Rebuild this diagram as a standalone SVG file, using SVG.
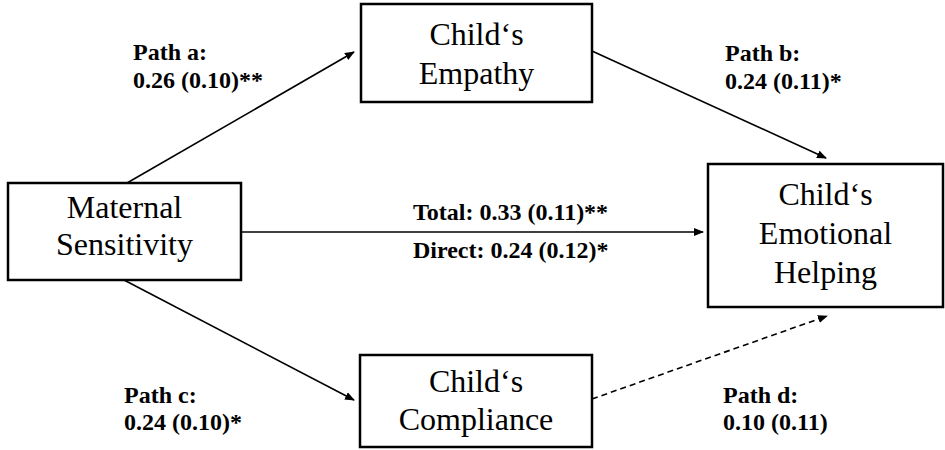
<svg xmlns="http://www.w3.org/2000/svg" width="945" height="450" viewBox="0 0 945 450">
<defs>
<marker id="ah" markerWidth="10" markerHeight="8" refX="9" refY="4" orient="auto" markerUnits="userSpaceOnUse">
<path d="M0,0 L10,4 L0,8 z" fill="#000"/>
</marker>
<style>
.box{fill:#fff;stroke:#000;stroke-width:2.5}
.nt{font-family:"Liberation Serif","Times New Roman",serif;font-size:32px;fill:#000;text-anchor:middle}
.lb{font-family:"Liberation Serif","Times New Roman",serif;font-size:24px;font-weight:bold;fill:#000}
.ln{stroke:#000;stroke-width:1.6;fill:none;marker-end:url(#ah)}
.dash{stroke-dasharray:6,4}
</style>
</defs>
<rect width="945" height="450" fill="#fff"/>
<g id="connectors">
<line class="ln" x1="127" y1="183" x2="354" y2="52"/>
<line class="ln" x1="592" y1="51" x2="826" y2="158"/>
<line class="ln" x1="241" y1="232" x2="703" y2="232"/>
<line class="ln" x1="124" y1="280" x2="354" y2="400"/>
<line class="ln dash" x1="592" y1="399" x2="827" y2="316"/>
</g>
<g id="maternal">
<rect class="box" x="8" y="183" width="233" height="97"/>
<text class="nt" x="124.5" y="218">Maternal</text>
<text class="nt" x="124.5" y="255">Sensitivity</text>
</g>
<g id="empathy">
<rect class="box" x="361" y="4" width="231" height="98"/>
<text class="nt" x="476.5" y="45">Child‘s</text>
<text class="nt" x="476.5" y="84">Empathy</text>
</g>
<g id="compliance">
<rect class="box" x="360" y="355" width="232" height="92"/>
<text class="nt" x="476" y="392">Child‘s</text>
<text class="nt" x="476" y="430">Compliance</text>
</g>
<g id="helping">
<rect class="box" x="708" y="164" width="235" height="143"/>
<text class="nt" x="825.5" y="205">Child‘s</text>
<text class="nt" x="825.5" y="244">Emotional</text>
<text class="nt" x="825.5" y="283">Helping</text>
</g>
<g id="labels">
<text class="lb" x="133" y="60">Path a:</text>
<text class="lb" x="133" y="88">0.26 (0.10)**</text>
<text class="lb" x="725" y="61">Path b:</text>
<text class="lb" x="725" y="89">0.24 (0.11)*</text>
<text class="lb" x="413" y="220">Total: 0.33 (0.11)**</text>
<text class="lb" x="413" y="258">Direct: 0.24 (0.12)*</text>
<text class="lb" x="124" y="403">Path c:</text>
<text class="lb" x="124" y="430">0.24 (0.10)*</text>
<text class="lb" x="723" y="403">Path d:</text>
<text class="lb" x="723" y="430">0.10 (0.11)</text>
</g>
</svg>
